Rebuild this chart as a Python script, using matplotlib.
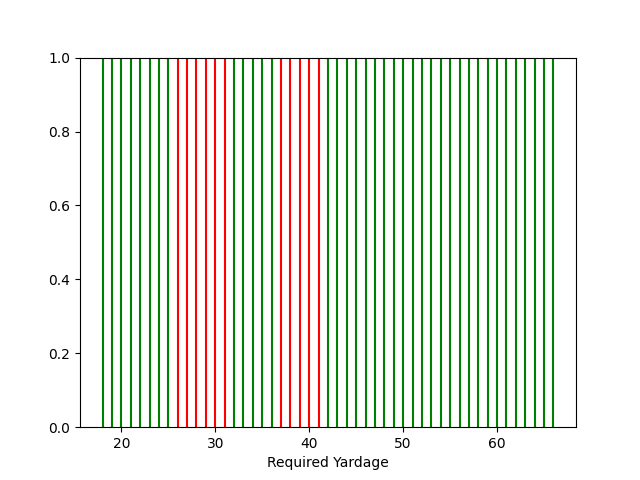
import matplotlib
matplotlib.use("Agg")
import matplotlib.pyplot as plt

yardages = list(range(18, 67))
red_yardages = [26, 27, 28, 29, 30, 31, 37, 38, 39, 40, 41]

fig, ax = plt.subplots(figsize=(6.4, 4.8), dpi=100)
for y in yardages:
    ax.axvline(y, color="red" if y in red_yardages else "green")
ax.set_xlabel("Required Yardage")
fig.savefig("out.png")
